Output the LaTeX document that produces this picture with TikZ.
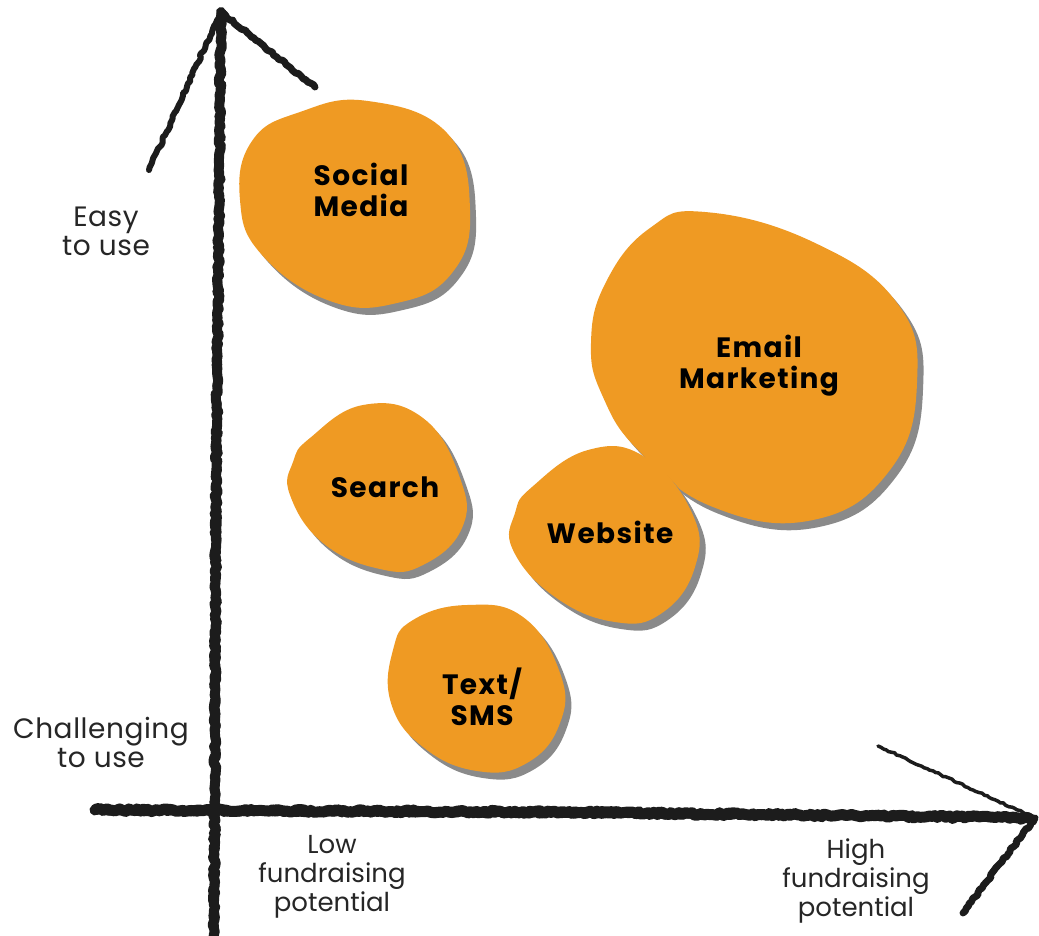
\documentclass[tikz,border=0pt]{standalone}
\usepackage{fontspec}
\setmainfont{Poppins}
\newfontfamily\blobfont{Poppins}[LetterSpace=5]
\newfontfamily\axisfont{Poppins}[LetterSpace=2]
\usetikzlibrary{decorations.pathmorphing}

\definecolor{blobfill}{HTML}{EF9A23}
\definecolor{blobshade}{HTML}{8A8A8A}
\definecolor{ink}{HTML}{1C1C1C}
\definecolor{labelink}{HTML}{262626}

\tikzset{
  brush/.style={draw=ink, line cap=round, line join=round,
    decorate, decoration={random steps, segment length=3pt, amplitude=#1}},
  brush/.default=1.2pt,
  bloblabel/.style={font=\blobfont\bfseries\fontsize{28}{31}\selectfont, text=black,
    align=center, inner sep=0pt},
  axislabel/.style={font=\axisfont\fontsize{28}{29}\selectfont, text=labelink,
    align=center, inner sep=0pt},
  xaxislabel/.style={font=\fontsize{26}{29}\selectfont, text=labelink,
    align=center, inner sep=0pt},
}

% one blob: grey drop shadow, then the orange body on top
\newcommand{\orangeblob}[1]{%
  \fill[blobshade, shift={(6,7)}] plot[smooth cycle, tension=0.75] coordinates {#1};
  \fill[blobfill] plot[smooth cycle, tension=0.75] coordinates {#1};
}

\begin{document}
\begin{tikzpicture}[x=1pt, y=-1pt]
\useasboundingbox (0,0) rectangle (1039,935);
\pgfmathsetseed{7}

% ---------- blobs ----------
\orangeblob{(252,141) (300,112) (368,101) (447,133) (470,210) (452,273) (397,303) (330,301) (262,255) (240,200)}
\orangeblob{(310,438) (363,405) (423,418) (460,478) (462,528) (423,565) (380,569) (323,543) (290,495) (293,462)}
\orangeblob{(606,282) (650,228) (705,212) (813,242) (897,303) (917,383) (890,470) (813,520) (713,507) (640,452) (603,397) (591,343)}
\orangeblob{(532,487) (588,450) (645,457) (692,513) (695,567) (662,613) (615,622) (555,597) (513,550) (515,513)}
\orangeblob{(413,620) (467,605) (523,617) (560,673) (560,723) (527,763) (477,771) (423,747) (391,703) (393,650)}

% ---------- blob labels ----------
\node[bloblabel] (social)  at (361,190) {Social\\Media};
\node[bloblabel] (search)  at (385,487) {Search};
\node[bloblabel] (email)   at (759,366) {Email\\Marketing};
\node[bloblabel] (website) at (610,532) {Website};
\node[bloblabel] (sms)     at (482,697) {Text/\\SMS};

% ---------- axis labels ----------
\node[axislabel] (easy) at (106,231) {Easy\\to use};
\node[axislabel] (hard) at (101,742) {Challenging\\to use};
\node[xaxislabel] (low)  at (332,877) {Low\\fundraising\\potential};
\node[xaxislabel] (high) at (856,881) {High\\fundraising\\potential};

% ---------- hand-drawn axes ----------
\coordinate (ybot) at (214,938);
\coordinate (ytip) at (221,12);
\coordinate (ylb)  at (149,170);
\coordinate (yrb)  at (315,87);
\coordinate (xleft) at (95,810);
\coordinate (xtip) at (1035,818);
\coordinate (xub) at (878,746);
\coordinate (xlb) at (963,913);

% vertical axis
\draw[brush=1.4pt, line width=10pt] (ybot) -- (216,500) -- (ytip);
\draw[brush=1pt, line width=6pt] ([xshift=2pt]ybot) -- ([xshift=-1pt]ytip);
\draw[brush=1.2pt, line width=6pt] (ytip) -- (ylb);
\draw[brush=1.2pt, line width=7pt] (ytip) -- (yrb);

% horizontal axis
\draw[brush=1.4pt, line width=11pt] (xleft) -- (560,812) -- ([xshift=-6pt]xtip);
\draw[brush=1pt, line width=6pt] ([yshift=-2pt]xleft) -- (xtip);
\draw[brush=0.8pt, line width=3.5pt] (xub) -- (xtip);
\draw[brush=1.2pt, line width=7pt] (xtip) -- (xlb);
\end{tikzpicture}
\end{document}
